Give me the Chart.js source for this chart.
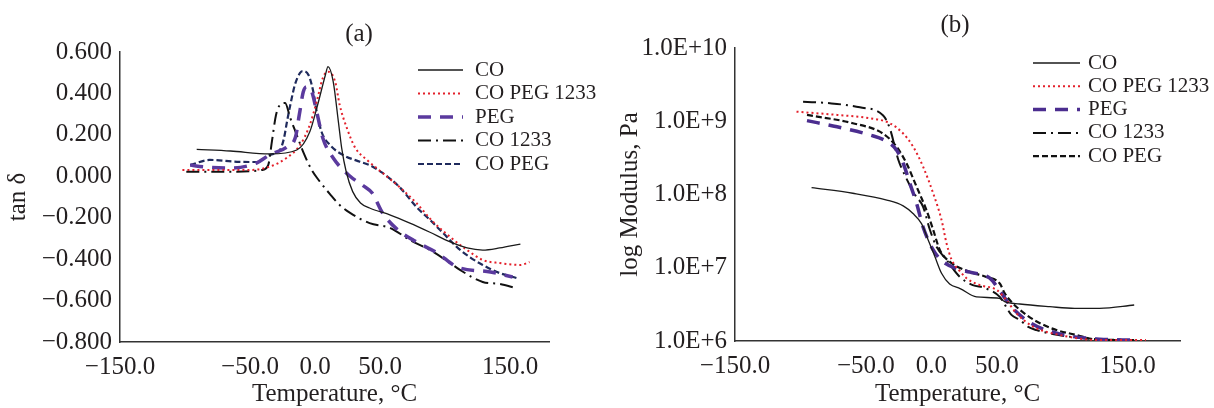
<!DOCTYPE html>
<html lang="en">
<head>
  <meta charset="UTF-8">
  <title>tan δ and log Modulus vs Temperature</title>
  <script src="https://cdn.jsdelivr.net/npm/chart.js"></script>
  <style>
    html, body { margin: 0; padding: 0; background: #fff; }
    .wrap { position: relative; width: 1214px; height: 408px; overflow: hidden; }
    canvas { position: absolute; top: 0; }
  </style>
</head>
<body>
  <div class="wrap">
    <canvas id="tanChart" width="607" height="408" style="left:0"></canvas>
    <canvas id="modChart" width="607" height="408" style="left:607px"></canvas>
  </div>

  <script>
    const seriesNames = ['CO', 'CO PEG 1233', 'PEG', 'CO 1233', 'CO PEG'];
    const tempTicks = [-150, -50, 0, 50, 150];
    const tanTicks = [0.6, 0.4, 0.2, 0, -0.2, -0.4, -0.6, -0.8];
    const modTicks = [1e6, 1e7, 1e8, 1e9, 1e10];

    // (a) tan delta
    const tanCoT = [-91, -65, -35, -14, -4, 2, 8, 10, 14, 18, 20.5, 24, 29, 35, 42, 58, 73, 88, 104, 117, 129, 142, 158];
    const tanCoV = [0.130, 0.122, 0.108, 0.127, 0.215, 0.344, 0.489, 0.529, 0.457, 0.263, 0.137, 0.022, -0.074, -0.129, -0.153, -0.187, -0.226, -0.269, -0.317, -0.346, -0.356, -0.346, -0.327];

    const tanCoPeg1233T = [-102, -52, -35, -22, -11.5, -4, 1.3, 6, 10, 15.5, 19, 24.5, 31, 40, 52, 65, 78, 91, 104, 117, 129, 142, 158, 165];
    const tanCoPeg1233V = [0.030, 0.030, 0.046, 0.088, 0.151, 0.248, 0.360, 0.474, 0.505, 0.457, 0.344, 0.233, 0.137, 0.079, 0.016, -0.052, -0.129, -0.221, -0.293, -0.356, -0.404, -0.419, -0.428, -0.414];

    const tanPegT = [-96, -86, -65, -45, -35, -22, -15, -12, -9, -6.5, -2.5, 1.3, 6, 14, 27, 37, 44, 52, 63, 78, 94, 109, 135, 152];
    const tanPegV = [0.054, 0.046, 0.040, 0.064, 0.103, 0.140, 0.190, 0.300, 0.408, 0.432, 0.408, 0.312, 0.185, 0.088, 0.000, -0.045, -0.081, -0.177, -0.255, -0.317, -0.370, -0.437, -0.462, -0.486];

    const tanCo1233T = [-99, -60, -41, -36, -33, -30, -27, -23, -19, -14, -9, -2.5, 4, 11.5, 19, 27, 42, 58, 73, 88.5, 104, 111.5, 129, 142, 155];
    const tanCo1233V = [0.022, 0.022, 0.030, 0.054, 0.175, 0.296, 0.344, 0.354, 0.281, 0.199, 0.117, 0.030, -0.028, -0.086, -0.139, -0.177, -0.226, -0.250, -0.308, -0.356, -0.419, -0.452, -0.510, -0.520, -0.540];

    const tanCoPegT = [-96, -81, -60, -45, -35, -27, -24, -21.5, -19, -15.5, -11.5, -9.5, -5, -1.3, 1.3, 5, 11.5, 21.5, 34.6, 42, 52, 65, 78, 88.5, 98.5, 109, 119, 129, 142, 155];
    const tanCoPegV = [0.054, 0.079, 0.070, 0.069, 0.103, 0.127, 0.180, 0.265, 0.344, 0.441, 0.499, 0.508, 0.489, 0.408, 0.312, 0.215, 0.151, 0.103, 0.070, 0.054, 0.016, -0.052, -0.148, -0.211, -0.274, -0.341, -0.390, -0.428, -0.467, -0.491];

    // (b) log modulus, Pa
    const modCoT = [-91.5, -60, -34, -21.5, -14, -7.5, -2.4, 2.7, 7.8, 14, 22, 34.5, 52, 56, 67.6, 90.5, 109.5, 128.6, 155];
    const modCoV = [1.24e8, 1.04e8, 8.4e7, 7.0e7, 5.5e7, 4.0e7, 2.4e7, 1.42e7, 8.4e6, 6.0e6, 5.2e6, 4.0e6, 3.83e6, 3.44e6, 3.2e6, 2.94e6, 2.79e6, 2.79e6, 3.1e6];

    const modCoPeg1233T = [-103, -72, -47, -31.7, -21.5, -13.9, -6.3, 1.4, 7.8, 11.6, 15.4, 21.8, 26.9, 37, 49.8, 57.4, 65, 77.7, 98, 128.6, 164];
    const modCoPeg1233V = [1.35e9, 1.22e9, 1.10e9, 9.4e8, 6.8e8, 4.5e8, 2.4e8, 1.04e8, 4.5e7, 2.16e7, 1.3e7, 9.0e6, 7.2e6, 5.8e6, 5.0e6, 3.6e6, 2.39e6, 1.57e6, 1.21e6, 1.03e6, 1.03e6];

    const modPegT = [-95, -72, -47, -34, -26.6, -21.5, -16.4, -11.3, -6.3, 1.4, 9, 19, 29.4, 44.7, 53.6, 60, 75, 98, 128.6, 155];
    const modPegV = [1.02e9, 8.4e8, 6.5e8, 5.3e8, 4.05e8, 2.67e8, 1.42e8, 7.6e7, 3.6e7, 1.75e7, 1.21e7, 9.8e6, 8.7e6, 7.2e6, 4.5e6, 3.1e6, 1.8e6, 1.25e6, 1.06e6, 1.03e6];

    const modCo1233T = [-98, -77.5, -54.6, -36.8, -31.7, -27.9, -25.3, -20, -12.6, -6.3, -1.1, 4, 11.6, 21.8, 31.7, 40.8, 52.3, 61.2, 67.6, 73.7, 80.3, 92.7, 118, 154];
    const modCo1233V = [1.85e9, 1.76e9, 1.55e9, 1.2e9, 8.0e8, 4.5e8, 3.0e8, 1.8e8, 1.0e8, 6.8e7, 3.3e7, 1.94e7, 1.28e7, 7.5e6, 5.8e6, 5.3e6, 4.0e6, 2.27e6, 1.94e6, 1.57e6, 1.41e6, 1.25e6, 1.08e6, 1.03e6];

    const modCoPegT = [-95, -60, -37, -26.6, -19, -11.3, -3.7, 1.4, 6.5, 14, 29.4, 42, 52.3, 56, 62, 72.7, 83, 95.6, 110.8, 128.6, 155];
    const modCoPegV = [1.22e9, 9.4e8, 6.8e8, 4.5e8, 2.67e8, 1.28e8, 6.1e7, 3.3e7, 1.75e7, 1.21e7, 8.8e6, 7.5e6, 6.1e6, 4.5e6, 3.3e6, 2.27e6, 1.75e6, 1.41e6, 1.21e6, 1.03e6, 1.03e6];

    Chart.defaults.font.family = '"Liberation Serif", "Times New Roman", serif';
    Chart.defaults.color = '#231f20';

    const pts = (xs, ys) => xs.map((x, i) => ({ x: x, y: ys[i] }));
    const minus = s => s.replace('-', '\u2212');

    // panel letter and the legend sit inside the plot, so draw them here
    const panelDecor = {
      id: 'panelDecor',
      afterDraw(chart, args, o) {
        const ctx = chart.ctx;
        ctx.save();
        ctx.fillStyle = '#231f20';
        ctx.font = '25px "Liberation Serif"';
        ctx.textAlign = 'center';
        ctx.textBaseline = 'middle';
        ctx.fillText(o.label, o.labelX, o.labelY);
        ctx.font = '21px "Liberation Serif"';
        ctx.textAlign = 'left';
        chart.data.datasets.forEach((ds, i) => {
          const y = o.legendY + i * o.legendStep;
          ctx.beginPath();
          ctx.setLineDash(ds.borderDash || []);
          ctx.lineWidth = ds.borderWidth;
          ctx.strokeStyle = ds.borderColor;
          ctx.moveTo(o.legendX, y);
          ctx.lineTo(o.legendX + o.lineLen, y);
          ctx.stroke();
          ctx.setLineDash([]);
          ctx.fillText(ds.label, o.legendX + o.lineLen + o.textGap, y);
        });
        ctx.restore();
      }
    };

    function makeSets(data, navy, purple) {
      return [
        { label: seriesNames[0], data: data[0], borderColor: '#1a1a1a', borderWidth: 1.3 },
        { label: seriesNames[1], data: data[1], borderColor: '#e3202b', borderWidth: 2, borderDash: [2, 3] },
        { label: seriesNames[2], data: data[2], borderColor: purple, borderWidth: 3.5, borderDash: [13, 9] },
        { label: seriesNames[3], data: data[3], borderColor: '#111', borderWidth: 2, borderDash: [13, 5, 2, 5] },
        { label: seriesNames[4], data: data[4], borderColor: navy, borderWidth: 2.2, borderDash: [6, 3] }
      ].map(d => Object.assign(d, { fill: false, pointRadius: 0, cubicInterpolationMode: 'monotone' }));
    }

    const xAxis = (max, h) => ({
      type: 'linear', min: -150, max: max,
      afterBuildTicks: s => { s.ticks = tempTicks.map(v => ({ value: v })); },
      afterFit: s => { s.height = h; },
      grid: { display: false, drawTicks: false },
      border: { display: true, color: '#333', width: 1.5 },
      ticks: {
        padding: 10, maxRotation: 0, autoSkip: false,
        font: { size: 25, lineHeight: 1.2 },
        callback: v => minus(v.toFixed(1))
      },
      title: { display: true, text: 'Temperature, \u00b0C', font: { size: 25, lineHeight: 1.1 }, padding: { top: 0, bottom: 0 } }
    });

    new Chart(document.getElementById('tanChart'), {
      type: 'line',
      data: {
        datasets: makeSets([
          pts(tanCoT, tanCoV), pts(tanCoPeg1233T, tanCoPeg1233V), pts(tanPegT, tanPegV),
          pts(tanCo1233T, tanCo1233V), pts(tanCoPegT, tanCoPegV)
        ], '#1f2a5c', '#5b3a9e')
      },
      options: {
        responsive: false, animation: false, devicePixelRatio: 1,
        layout: { padding: { top: 52, right: 58, left: 0, bottom: 0 } },
        plugins: {
          legend: { display: false }, tooltip: { enabled: false },
          panelDecor: { label: '(a)', labelX: 359, labelY: 34, legendX: 418, legendY: 70, legendStep: 23.5, lineLen: 45, textGap: 12 }
        },
        scales: {
          x: xAxis(180, 66),
          y: {
            min: -0.8, max: 0.6,
            afterBuildTicks: s => { s.ticks = tanTicks.map(v => ({ value: v })); },
            afterFit: s => { s.width = 120; },
            grid: { display: false, drawTicks: false },
            border: { display: true, color: '#333', width: 1.5 },
            ticks: {
              padding: 8, font: { size: 25 },
              callback: v => Math.abs(v) < 1e-9 ? '0.000' : minus(v.toFixed(3))
            },
            title: { display: true, text: 'tan \u03b4', font: { size: 25, lineHeight: 1.2 }, padding: { top: 3, bottom: 0 } }
          }
        }
      },
      plugins: [panelDecor]
    });

    new Chart(document.getElementById('modChart'), {
      type: 'line',
      data: {
        datasets: makeSets([
          pts(modCoT, modCoV), pts(modCoPeg1233T, modCoPeg1233V), pts(modPegT, modPegV),
          pts(modCo1233T, modCo1233V), pts(modCoPegT, modCoPegV)
        ], '#111', '#4b2d8f')
      },
      options: {
        responsive: false, animation: false, devicePixelRatio: 1,
        layout: { padding: { top: 48, right: 34, left: 0, bottom: 0 } },
        plugins: {
          legend: { display: false }, tooltip: { enabled: false },
          panelDecor: { label: '(b)', labelX: 348, labelY: 25, legendX: 426, legendY: 63, legendStep: 23.3, lineLen: 47, textGap: 8 }
        },
        scales: {
          x: xAxis(190, 67),
          y: {
            type: 'logarithmic', min: 1e6, max: 1e10,
            afterBuildTicks: s => { s.ticks = modTicks.map(v => ({ value: v })); },
            afterFit: s => { s.width = 128; },
            grid: { display: false, drawTicks: false },
            border: { display: true, color: '#333', width: 1.5 },
            ticks: {
              padding: 8, font: { size: 25 },
              callback: v => '1.0E+' + Math.round(Math.log10(v))
            },
            title: { display: true, text: 'log Modulus, Pa', font: { size: 25, lineHeight: 1.2 }, padding: { top: 8, bottom: 0 } }
          }
        }
      },
      plugins: [panelDecor]
    });
  </script>
</body>
</html>
